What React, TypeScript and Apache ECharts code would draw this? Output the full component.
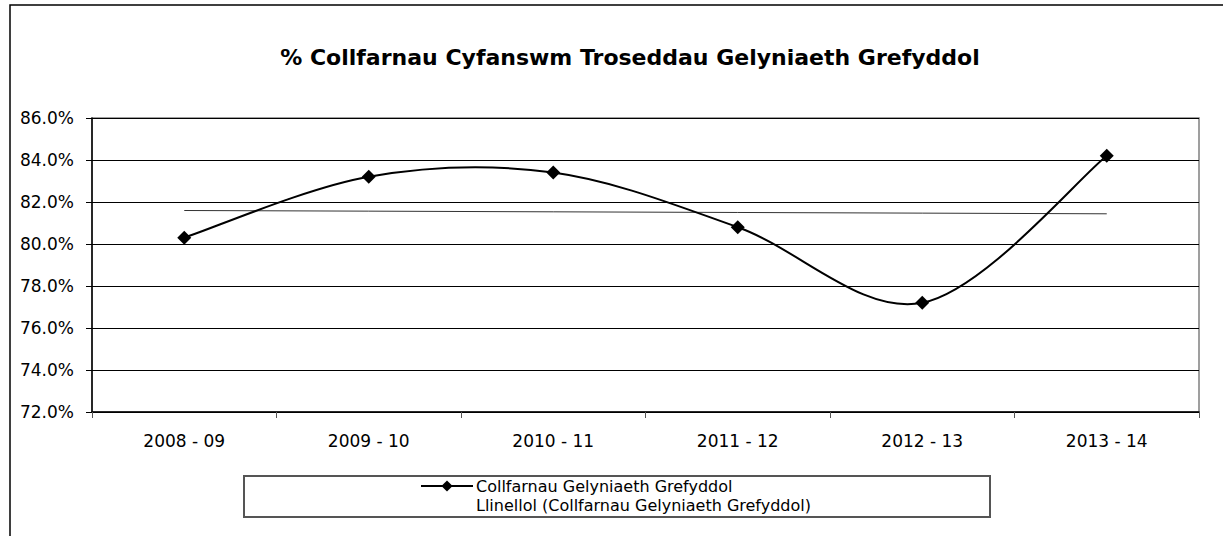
import React, { useEffect, useRef } from "react";
import * as echarts from "echarts";

const categories = ["2008 - 09", "2009 - 10", "2010 - 11", "2011 - 12", "2012 - 13", "2013 - 14"];
const convictionRates = [80.3, 83.2, 83.4, 80.8, 77.2, 84.2];
const yTicks = { min: 72, max: 86, interval: 2 };
const titleText = "% Collfarnau Cyfanswm Troseddau Gelyniaeth Grefyddol";
const seriesName = "Collfarnau Gelyniaeth Grefyddol";
const trendName = "Llinellol (Collfarnau Gelyniaeth Grefyddol)";

function linearTrend(values: number[]): number[] {
  const n = values.length;
  const xs = values.map((_, i) => i);
  const mx = xs.reduce((a, b) => a + b, 0) / n;
  const my = values.reduce((a, b) => a + b, 0) / n;
  let sxy = 0;
  let sxx = 0;
  xs.forEach((x, i) => {
    sxy += (x - mx) * (values[i] - my);
    sxx += (x - mx) * (x - mx);
  });
  const slope = sxy / sxx;
  return xs.map((x) => +(my + slope * (x - mx)).toFixed(3));
}

const FONT = "DejaVu Sans";

export default function App() {
  const ref = useRef<HTMLDivElement>(null);
  useEffect(() => {
    if (!ref.current) return;
    const chart = echarts.init(ref.current, null, { renderer: "svg" });
    const trend = linearTrend(convictionRates);

    // Spreadsheet-style smoothed curve (Catmull-Rom Bezier), positioned via the chart's own scales
    const renderSmooth = (params: any, api: any) => {
      const pts = convictionRates.map((v, i) => api.coord([i, v]));
      const n = pts.length;
      let d = `M${pts[0][0]},${pts[0][1]}`;
      for (let i = 0; i < n - 1; i++) {
        const p0 = pts[Math.max(i - 1, 0)];
        const p1 = pts[i];
        const p2 = pts[i + 1];
        const p3 = pts[Math.min(i + 2, n - 1)];
        const c1x = p1[0] + (p2[0] - p0[0]) / 6;
        const c1y = p1[1] + (p2[1] - p0[1]) / 6;
        const c2x = p2[0] - (p3[0] - p1[0]) / 6;
        const c2y = p2[1] - (p3[1] - p1[1]) / 6;
        d += ` C${c1x},${c1y} ${c2x},${c2y} ${p2[0]},${p2[1]}`;
      }
      return {
        type: "path",
        shape: { pathData: d },
        style: { fill: "none", stroke: "#000", lineWidth: 2 },
        silent: true,
      };
    };

    chart.setOption({
      animation: false,
      backgroundColor: "#ffffff",
      textStyle: { fontFamily: FONT },
      grid: {
        left: 92,
        top: 118,
        right: 24,
        bottom: 124,
        show: true,
        borderColor: "#808080",
        borderWidth: 1.5,
        containLabel: false,
      },
      xAxis: {
        type: "category",
        data: categories,
        boundaryGap: true,
        axisLine: { show: true, lineStyle: { color: "#000", width: 1.5 } },
        axisTick: { show: true, length: 6, lineStyle: { color: "#555", width: 1 } },
        axisLabel: { color: "#000", fontSize: 17, fontFamily: FONT, margin: 20 },
        splitLine: { show: false },
      },
      yAxis: {
        type: "value",
        min: yTicks.min,
        max: yTicks.max,
        interval: yTicks.interval,
        axisLine: { show: true, lineStyle: { color: "#000", width: 1.5 } },
        axisTick: { show: true, length: 6, lineStyle: { color: "#000", width: 1 } },
        axisLabel: {
          color: "#000",
          fontSize: 17,
          fontFamily: FONT,
          margin: 18,
          formatter: (v: number) => v.toFixed(1) + "%",
        },
        splitLine: { show: true, lineStyle: { color: "#000", width: 1 } },
      },
      legend: {
        orient: "vertical",
        left: 420,
        top: 478,
        itemGap: 3,
        itemWidth: 52,
        itemHeight: 14,
        padding: 0,
        textStyle: { color: "#000", fontSize: 16, fontFamily: FONT, padding: [0, 0, 0, -2] },
        data: [
          {
            name: seriesName,
            itemStyle: { color: "#000", opacity: 1 },
            lineStyle: { color: "#000", width: 2, opacity: 1 },
          },
          { name: trendName, itemStyle: { opacity: 0 }, lineStyle: { opacity: 0 } },
        ],
      },
      graphic: [
        {
          type: "rect",
          silent: true,
          shape: { x: 10, y: 5, width: 1240, height: 560 },
          style: { fill: "none", stroke: "#000", lineWidth: 1.5 },
          z: 100,
        },
        {
          type: "rect",
          silent: true,
          shape: { x: 244, y: 476, width: 746, height: 41 },
          style: { fill: "none", stroke: "#555", lineWidth: 2 },
          z: 100,
        },
        {
          type: "text",
          x: 630,
          y: 57,
          style: {
            text: titleText,
            fill: "#000",
            font: `bold 22px "${FONT}"`,
            align: "center",
            verticalAlign: "middle",
          },
        },
      ],
      series: [
        {
          name: seriesName,
          type: "line",
          data: convictionRates,
          symbol: "diamond",
          symbolSize: 14,
          itemStyle: { color: "#000" },
          lineStyle: { color: "#000", width: 0, opacity: 0 },
          z: 4,
        },
        {
          name: "smoothCurve",
          type: "custom",
          data: [0],
          renderItem: renderSmooth,
          z: 3,
        },
        {
          name: trendName,
          type: "line",
          data: trend,
          symbol: "none",
          lineStyle: { color: "#333", width: 1 },
          z: 2,
        },
      ],
    });
    return () => chart.dispose();
  }, []);
  return (
    <div
      ref={ref}
      style={{ position: "fixed", left: 0, top: 0, width: 1223, height: 536, background: "#fff" }}
    />
  );
}
